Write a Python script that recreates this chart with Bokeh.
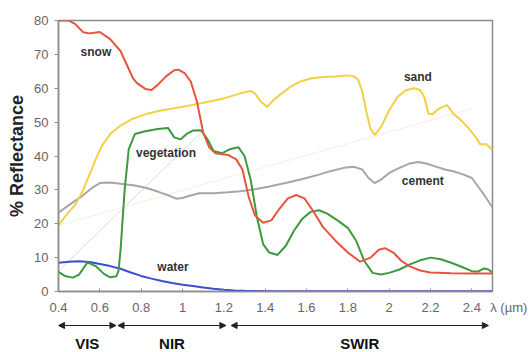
from bokeh.plotting import figure
from bokeh.models import Range1d, Label, Arrow, NormalHead, FixedTicker
from bokeh.layouts import column
from bokeh.embed import file_html
from bokeh.resources import INLINE

# ---- data ----
snow_x = [0.40,0.45,0.48,0.52,0.55,0.60,0.65,0.70,0.73,0.76,0.78,0.82,0.85,0.88,0.92,0.96,0.98,1.01,1.04,1.07,1.10,1.13,1.16,1.22,1.26,1.29,1.32,1.35,1.39,1.43,1.47,1.51,1.55,1.59,1.63,1.68,1.74,1.80,1.86,1.91,1.95,1.98,2.02,2.06,2.10,2.15,2.20,2.30,2.40,2.50]
snow_y = [80,80,79,76.5,76.2,76.6,74.5,71,67,63,61.5,59.8,59.5,61,63.5,65.3,65.5,64.5,62,56,47,42.5,40.8,40.3,39,36,28,22.5,20.3,21,24.5,27.5,28.5,27.5,24,19,15,11.5,8.8,10,12.3,12.8,11.5,9,7.4,6.2,5.6,5.4,5.3,5.3]

veg_x = [0.40,0.43,0.47,0.50,0.54,0.58,0.62,0.65,0.68,0.69,0.70,0.72,0.74,0.77,0.82,0.88,0.93,0.96,0.99,1.02,1.05,1.09,1.12,1.15,1.19,1.23,1.27,1.30,1.33,1.36,1.39,1.42,1.46,1.50,1.54,1.58,1.62,1.66,1.70,1.75,1.80,1.84,1.88,1.92,1.96,2.00,2.05,2.10,2.15,2.20,2.25,2.30,2.35,2.40,2.43,2.46,2.48,2.50]
veg_y = [5.8,4.6,4.1,5,8.6,7.5,5.2,4.2,4.5,6,12,30,42,46.5,47.3,48,48.3,45.5,44.9,46.5,47.5,47.6,45,41.5,40.8,42,42.6,40,33,22,14,11.5,10.8,13.5,18,21.5,23.5,24,23,21,18.8,15,9,5.5,5,5.5,6.5,8,9.2,10,9.5,8.5,7.3,6,5.9,6.8,6.5,5.6]

sand_x = [0.40,0.43,0.45,0.48,0.52,0.55,0.58,0.61,0.65,0.70,0.76,0.83,0.90,1.00,1.09,1.20,1.28,1.33,1.35,1.38,1.41,1.44,1.48,1.52,1.57,1.62,1.68,1.74,1.80,1.83,1.85,1.87,1.89,1.91,1.93,1.96,2.00,2.04,2.08,2.12,2.15,2.17,2.19,2.21,2.24,2.28,2.31,2.34,2.38,2.42,2.44,2.47,2.50]
sand_y = [19.5,22,23.5,25.5,30,34.5,39,43,46.5,49,51,52.5,53.5,54.5,55.6,57,58.5,59.2,58.5,56,54.5,56.5,58.5,60.3,62,62.9,63.3,63.5,63.8,63.5,62.5,59,53,48,46.2,48.5,53.5,57.4,59.4,60,59.5,57.4,52.5,52.3,54,55,52.5,51,48.5,45.5,43.5,43.5,41.8]

cement_x = [0.40,0.45,0.51,0.56,0.60,0.65,0.70,0.77,0.83,0.88,0.93,0.97,1.00,1.03,1.08,1.15,1.22,1.28,1.35,1.42,1.52,1.60,1.66,1.72,1.78,1.83,1.87,1.90,1.93,1.96,2.00,2.05,2.10,2.14,2.18,2.23,2.27,2.31,2.36,2.40,2.43,2.46,2.50]
cement_y = [23.3,25.5,28,30.5,32,32.2,31.8,31.3,30.5,29.5,28.4,27.4,27.6,28.2,29,29,29.3,29.6,30.2,31,32.3,33.5,34.5,35.6,36.5,36.8,36,33.5,32,33,35,36.5,37.8,38.2,37.8,36.8,36,35.5,34.5,33.5,31,28.5,24.8]

water_x = [0.40,0.45,0.50,0.55,0.60,0.65,0.70,0.75,0.80,0.85,0.90,0.95,1.00,1.05,1.10,1.15,1.20,1.25,1.30,1.40,1.60,1.80,2.00,2.20,2.40,2.50]
water_y = [8.5,8.8,8.9,8.7,8.1,7.5,6.7,5.6,4.6,3.8,3.1,2.5,2.0,1.6,1.2,0.8,0.5,0.3,0.2,0.1,0.1,0.1,0.1,0.1,0.1,0.1]

# faint trend lines visible in the picture
trend_gray_x = [0.40, 1.10]
trend_gray_y = [6, 47.5]
trend_yellow_x = [0.40, 2.40]
trend_yellow_y = [19.5, 54]

x_ticks = [0.4, 0.6, 0.8, 1.0, 1.2, 1.4, 1.6, 1.8, 2.0, 2.2, 2.4, 2.5]
x_tick_labels = ["0.4", "0.6", "0.8", "1", "1.2", "1.4", "1.6", "1.8", "2", "2.2", "2.4",
                 "\u00a0" * 9 + "λ (µm)"]
y_ticks = [0, 10, 20, 30, 40, 50, 60, 70, 80]

bands = ["VIS", "NIR", "SWIR"]
band_start = [0.40, 0.688, 1.235]
band_end = [0.678, 1.21, 2.48]

FONT = "Liberation Sans"

xr = Range1d(0.4, 2.5)
p = figure(width=529, height=317, x_range=xr, y_range=Range1d(0, 80),
           output_backend="svg", toolbar_location=None,
           min_border_left=58, min_border_right=37, min_border_top=20, min_border_bottom=25)
p.grid.visible = False
p.outline_line_color = "#8c8c8c"
p.outline_line_width = 1.5

p.line(trend_gray_x, trend_gray_y, line_color="#d8d8d8", line_width=1)
p.line(trend_yellow_x, trend_yellow_y, line_color="#f4f0d8", line_width=1)

p.line(cement_x, cement_y, line_color="#a6a6a6", line_width=2)
p.line(sand_x, sand_y, line_color="#f2d045", line_width=2)
p.line(water_x, water_y, line_color="#3a4fd0", line_width=2)
p.line(veg_x, veg_y, line_color="#3c9a3c", line_width=2)
p.line(snow_x, snow_y, line_color="#e8533d", line_width=2)

p.xaxis.ticker = FixedTicker(ticks=x_ticks)
p.xaxis.major_label_overrides = {t: l for t, l in zip(x_ticks, x_tick_labels)}
p.yaxis.ticker = FixedTicker(ticks=y_ticks)
p.xaxis.minor_tick_line_color = None
p.yaxis.minor_tick_line_color = None
p.axis.axis_line_color = "#8c8c8c"
p.axis.axis_line_width = 1.5
p.axis.major_tick_line_color = "#8c8c8c"
p.xaxis.major_tick_in = 3
p.xaxis.major_tick_out = 0
p.yaxis.major_tick_in = 0
p.yaxis.major_tick_out = 4
p.axis.major_label_text_font = FONT
p.axis.major_label_text_font_size = "13px"
p.axis.major_label_text_color = "#666666"
p.xaxis.major_label_standoff = 8
p.yaxis.major_label_standoff = 6
p.yaxis.axis_label = "% Reflectance"
p.yaxis.axis_label_text_font = FONT
p.yaxis.axis_label_text_font_size = "18px"
p.yaxis.axis_label_text_font_style = "bold"
p.yaxis.axis_label_text_color = "#222222"
p.yaxis.axis_label_standoff = 4

for txt, lx, ly in [("snow", 0.581, 70.6), ("vegetation", 0.92, 40.9), ("water", 0.954, 7.1),
                    ("sand", 2.139, 63.2), ("cement", 2.163, 32.6)]:
    p.add_layout(Label(x=lx, y=ly, text=txt, text_font=FONT, text_font_size="12px",
                       text_font_style="bold", text_color="#333333",
                       text_align="center", text_baseline="middle"))

b = figure(width=529, height=35, x_range=xr, y_range=Range1d(0, 35),
           output_backend="svg", toolbar_location=None,
           x_axis_type=None, y_axis_type=None,
           min_border_left=58, min_border_right=37, min_border_top=0, min_border_bottom=0)
b.grid.visible = False
b.outline_line_color = None

for name, s, e in zip(bands, band_start, band_end):
    b.add_layout(Arrow(x_start=s, y_start=27, x_end=e, y_end=27,
                       start=NormalHead(size=6, fill_color="#222222", line_color="#222222"),
                       end=NormalHead(size=6, fill_color="#222222", line_color="#222222"),
                       line_color="#222222", line_width=1))
    b.add_layout(Label(x=(s + e) / 2, y=9, text=name, text_font=FONT, text_font_size="15px",
                       text_font_style="bold", text_color="#111111",
                       text_align="center", text_baseline="middle"))

layout = column(p, b, spacing=0)
open("out.html", "w").write(file_html(layout, INLINE))
